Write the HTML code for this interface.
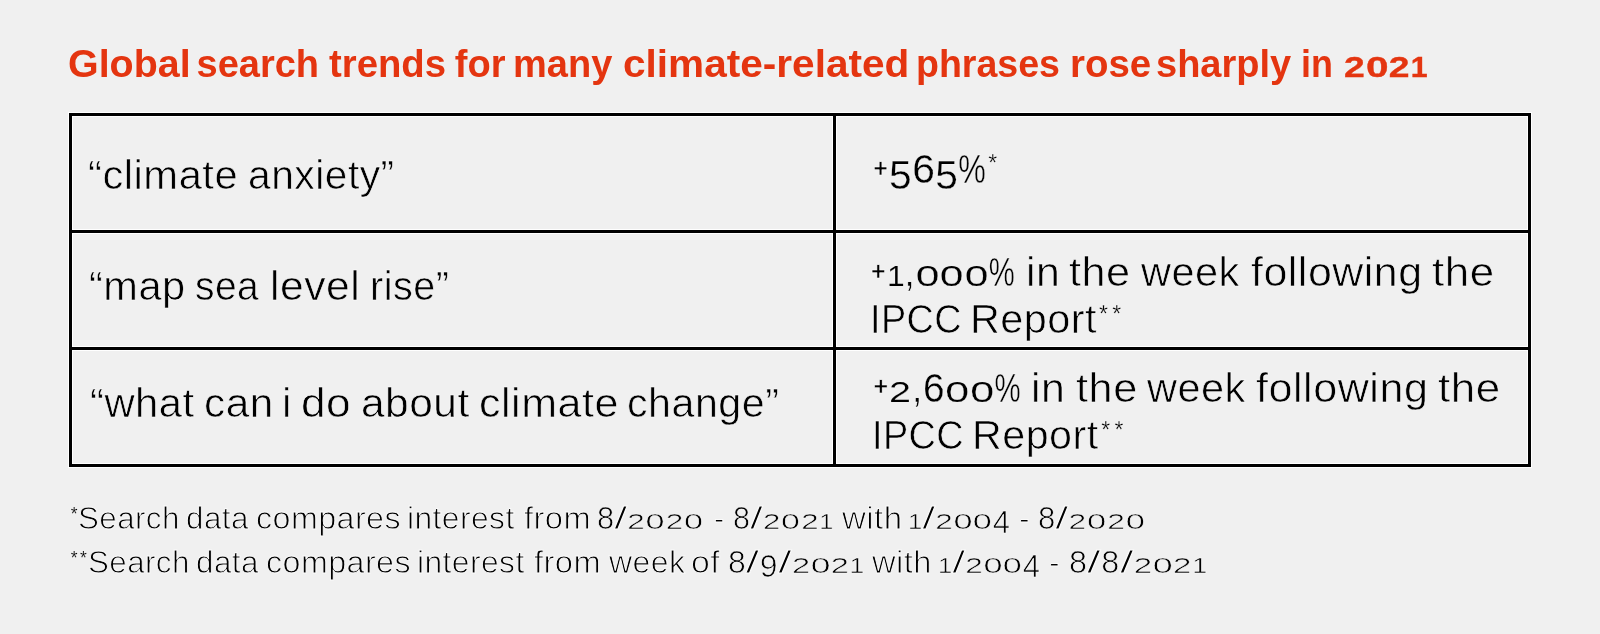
<!DOCTYPE html>
<html lang="en">
<head>
<meta charset="utf-8">
<title>Global search trends for climate-related phrases</title>
<style>
  html, body { margin: 0; padding: 0; }
  body {
    width: 1600px; height: 634px; overflow: hidden;
    background: #f0f0f0;
    font-family: "Liberation Sans", sans-serif;
    color: #000; position: relative;
  }
  /* table grid */
  .grid { position: absolute; left: 69px; top: 113px; width: 1462px; height: 354px;
          box-sizing: border-box; border: 3px solid #000; }
  .hline { position: absolute; left: 69px; width: 1462px; height: 3px; background: #000; }
  .vline { position: absolute; top: 113px; height: 354px; width: 3px; left: 833px; background: #000; }
  /* 1px light fringe either side of every rule (sharpening halo in the original) */
  .halo { position: absolute; background: #fff; }
  .halo.ring { left: 68px; top: 112px; width: 1464px; height: 356px; box-sizing: border-box;
               background: none; border: 5px solid #fff; }
  /* every text line is an absolutely placed strip; words are placed inside it */
  .ln { position: absolute; left: 0; width: 1600px; margin: 0; padding: 0; white-space: nowrap;
        line-height: 1; font-weight: normal; will-change: transform; }
  .ln > span { position: absolute; top: 0; white-space: nowrap; transform-origin: 0 0; }
  .title { font-size: 38px; font-weight: bold; color: #e43510; }
  /* body text: Liberation Sans thinned with a background-coloured stroke to mimic a light face */
  .cell { font-size: 40px; letter-spacing: 0.5px; -webkit-text-stroke: 0.55px #fbfbfb; }
  .foot { font-size: 30.5px; letter-spacing: 0.4px; -webkit-text-stroke: 0.85px #fbfbfb; }
  /* old-style figures: 0 1 2 sit at x-height, 3 4 5 7 9 hang below the baseline */
  .o { display: inline-block; font-size: .74em; transform: scaleX(1.5); transform-origin: 0 100%;
       margin-right: .31em; letter-spacing: 0; -webkit-text-stroke: 0.15px #fbfbfb; }
  .o.o2 { transform: scaleX(1.38); margin-right: .24em; }
  .o.o1 { transform: scaleX(1.12); margin-right: .05em; }
  .foot .o { -webkit-text-stroke: 0.45px #fbfbfb; }
  .title .o { font-size: .78em; -webkit-text-stroke: 0.35px #e43510; }
  .pc { display: inline-block; transform: scaleX(.76); transform-origin: 0 100%; margin-right: -.2em;
        letter-spacing: 0; -webkit-text-stroke: 0.4px #fbfbfb; }
  .sl { display: inline-block; transform: scaleX(1.5); transform-origin: 0 100%; margin-right: .15em; letter-spacing: 0; }
  .d { position: relative; top: .14em; }
  .cell .d, .cell .n { -webkit-text-stroke: 0.3px #fbfbfb; }
  .foot .d, .foot .n { -webkit-text-stroke: 0.7px #fbfbfb; }
  .cell .plus { font-size: 25px; font-weight: bold; -webkit-text-stroke: 0.5px #fbfbfb; }
  .cell .star { font-size: 23px; letter-spacing: 0; font-weight: normal; -webkit-text-stroke: 0.25px #fbfbfb; }
  .foot .star { font-size: 17.5px; letter-spacing: 0; font-weight: normal; -webkit-text-stroke: 0.1px #fbfbfb; }
</style>
</head>
<body>
  <div class="halo ring"></div>
  <div class="halo" style="left:72px;top:229px;width:1456px;height:5px"></div>
  <div class="halo" style="left:72px;top:346px;width:1456px;height:5px"></div>
  <div class="halo" style="left:832px;top:116px;width:5px;height:348px"></div>
  <div class="grid"></div>
  <div class="hline" style="top:230px"></div>
  <div class="hline" style="top:347px"></div>
  <div class="vline"></div>

  <h1 class="ln title" id="title" style="top:44.73px"><span style="left:67.50px;transform:scaleX(1.0373)">Global</span> <span style="left:196.50px">search</span> <span style="left:328.95px;transform:scaleX(1.0076)">trends</span> <span style="left:454.85px">for</span> <span style="left:512.65px;transform:scaleX(1.0003)">many</span> <span style="left:623.10px;transform:scaleX(1.0676)">climate-related</span> <span style="left:916.40px;transform:scaleX(0.9880)">phrases</span> <span style="left:1070.15px;transform:scaleX(1.0110)">rose</span> <span style="left:1156.40px;transform:scaleX(1.0001)">sharply</span> <span style="left:1301.40px;transform:scaleX(0.9443)">in</span> <span style="left:1343.50px;transform:scaleX(0.9127)"><span class="o o2">2</span><span class="o o0">0</span><span class="o o2">2</span><span class="o o1">1</span></span></h1>
  <div class="ln cell" id="l1" style="top:154.64px"><span style="left:87.95px;transform:scaleX(1.0429)">“climate</span> <span style="left:247.85px;transform:scaleX(1.0183)">anxiety”</span></div>
  <div class="ln cell" id="l2" style="top:266.34px"><span style="left:88.65px;transform:scaleX(1.0385)">“map</span> <span style="left:194.55px;transform:scaleX(0.9739)">sea</span> <span style="left:270.40px;transform:scaleX(1.0655)">level</span> <span style="left:370.10px;transform:scaleX(0.9891)">rise”</span></div>
  <div class="ln cell" id="l3" style="top:383.04px"><span style="left:90.05px;transform:scaleX(1.0440)">“what</span> <span style="left:203.90px;transform:scaleX(1.0572)">can</span> <span style="left:282.23px">i</span> <span style="left:301.40px;transform:scaleX(1.1045)">do</span> <span style="left:360.65px;transform:scaleX(1.0603)">about</span> <span style="left:478.90px;transform:scaleX(1.0748)">climate</span> <span style="left:627.15px;transform:scaleX(1.0295)">change”</span></div>
  <div class="ln cell" id="r1" style="top:149.34px"><span class="plus" style="left:873.30px;top:6.70px">+</span><span style="left:888.95px;transform:scaleX(1.0187)"><span class="d">5</span><span class="n">6</span><span class="d">5</span><span class="pc">%</span></span><span class="star" style="left:988.25px;top:3.39px">*</span></div>
  <div class="ln cell" id="r2a" style="top:251.84px"><span class="plus" style="left:871.08px;top:7.20px">+</span><span style="left:887.15px;transform:scaleX(0.9609)"><span class="o o1">1</span>,<span class="o o0">0</span><span class="o o0">0</span><span class="o o0">0</span><span class="pc">%</span></span> <span style="left:1025.55px;transform:scaleX(1.0687)">in</span> <span style="left:1069.35px;transform:scaleX(1.0798)">the</span> <span style="left:1140.60px;transform:scaleX(1.0364)">week</span> <span style="left:1250.95px;transform:scaleX(1.0709)">following</span> <span style="left:1432.35px;transform:scaleX(1.0955)">the</span></div>
  <div class="ln cell" id="r2b" style="top:299.14px"><span style="left:869.55px;transform:scaleX(0.9437)">IPCC</span> <span style="left:969.95px;transform:scaleX(1.0329)">Report</span><span class="star" style="left:1098.95px;letter-spacing:4.25px;top:3.79px">**</span></div>
  <div class="ln cell" id="r3a" style="top:367.54px"><span class="plus" style="left:873.50px;top:6.40px">+</span><span style="left:888.90px;transform:scaleX(0.9681)"><span class="o o2">2</span>,<span class="n">6</span><span class="o o0">0</span><span class="o o0">0</span><span class="pc">%</span></span> <span style="left:1031.30px;transform:scaleX(1.0687)">in</span> <span style="left:1075.60px;transform:scaleX(1.0809)">the</span> <span style="left:1146.85px;transform:scaleX(1.0364)">week</span> <span style="left:1255.85px;transform:scaleX(1.0764)">following</span> <span style="left:1438.15px;transform:scaleX(1.0955)">the</span></div>
  <div class="ln cell" id="r3b" style="top:415.14px"><span style="left:871.95px;transform:scaleX(0.9440)">IPCC</span> <span style="left:972.35px;transform:scaleX(1.0288)">Report</span><span class="star" style="left:1101.35px;letter-spacing:4.25px;top:3.79px">**</span></div>
  <p class="ln foot" id="f1" style="top:503.18px"><span class="star" style="left:70.65px;top:3.10px">*</span><span style="left:78.15px;transform:scaleX(1.0274)">Search</span> <span style="left:185.65px;transform:scaleX(1.0300)">data</span> <span style="left:256.40px;transform:scaleX(1.0576)">compares</span> <span style="left:407.30px;transform:scaleX(1.0428)">interest</span> <span style="left:523.60px;transform:scaleX(1.0727)">from</span> <span style="left:597.15px;transform:scaleX(1.0109)"><span class="n">8</span><span class="sl">/</span><span class="o o2">2</span><span class="o o0">0</span><span class="o o2">2</span><span class="o o0">0</span></span> <span style="left:714.00px">-</span> <span style="left:732.65px;transform:scaleX(1.0022)"><span class="n">8</span><span class="sl">/</span><span class="o o2">2</span><span class="o o0">0</span><span class="o o2">2</span><span class="o o1">1</span></span> <span style="left:841.85px;transform:scaleX(1.0822)">with</span> <span style="left:907.65px;transform:scaleX(1.0119)"><span class="o o1">1</span><span class="sl">/</span><span class="o o2">2</span><span class="o o0">0</span><span class="o o0">0</span><span class="d">4</span></span> <span style="left:1019.33px">-</span> <span style="left:1038.15px;transform:scaleX(1.0197)"><span class="n">8</span><span class="sl">/</span><span class="o o2">2</span><span class="o o0">0</span><span class="o o2">2</span><span class="o o0">0</span></span></p>
  <p class="ln foot" id="f2" style="top:547.18px"><span class="star" style="left:70.65px;letter-spacing:2.55px;top:3.20px">**</span><span style="left:88.15px;transform:scaleX(1.0274)">Search</span> <span style="left:195.65px;transform:scaleX(1.0300)">data</span> <span style="left:266.40px;transform:scaleX(1.0576)">compares</span> <span style="left:417.30px;transform:scaleX(1.0428)">interest</span> <span style="left:533.60px;transform:scaleX(1.0727)">from</span> <span style="left:608.85px;transform:scaleX(1.0490)">week</span> <span style="left:691.40px;transform:scaleX(1.1090)">of</span> <span style="left:727.65px;transform:scaleX(1.0475)"><span class="n">8</span><span class="sl">/</span><span class="d">9</span><span class="sl">/</span><span class="o o2">2</span><span class="o o0">0</span><span class="o o2">2</span><span class="o o1">1</span></span> <span style="left:871.85px;transform:scaleX(1.0700)">with</span> <span style="left:938.15px;transform:scaleX(1.0114)"><span class="o o1">1</span><span class="sl">/</span><span class="o o2">2</span><span class="o o0">0</span><span class="o o0">0</span><span class="d">4</span></span> <span style="left:1049.33px">-</span> <span style="left:1068.90px;transform:scaleX(1.0616)"><span class="n">8</span><span class="sl">/</span><span class="n">8</span><span class="sl">/</span><span class="o o2">2</span><span class="o o0">0</span><span class="o o2">2</span><span class="o o1">1</span></span></p>
</body>
</html>
